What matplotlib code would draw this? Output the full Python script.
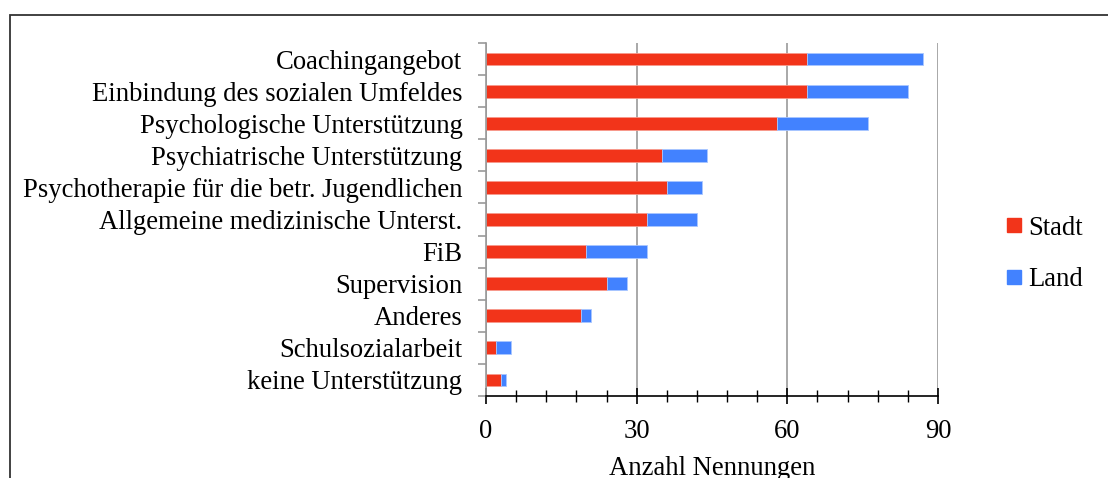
import matplotlib.pyplot as plt
import numpy as np
from matplotlib.lines import Line2D
from matplotlib.patches import Rectangle
from matplotlib.ticker import MultipleLocator

plt.rcParams['font.family'] = ['Liberation Serif', 'DejaVu Serif']

# Data (top to bottom as in the chart)
categories = [
    'Coachingangebot',
    'Einbindung des sozialen Umfeldes',
    'Psychologische Unterstützung',
    'Psychiatrische Unterstützung',
    'Psychotherapie für die betr. Jugendlichen',
    'Allgemeine medizinische Unterst.',
    'FiB',
    'Supervision',
    'Anderes',
    'Schulsozialarbeit',
    'keine Unterstützung',
]
stadt = [64, 64, 58, 35, 36, 32, 20, 24, 19, 2, 3]
land = [23, 20, 18, 9, 7, 10, 12, 4, 2, 3, 1]
series_names = ['Stadt', 'Land']
x_ticks = [0, 30, 60, 90]

red = '#F2341A'
blue = '#4282FF'
fs = 19.2

W, H = 1108, 478
fig = plt.figure(figsize=(W / 100, H / 100), dpi=100)

# outer frame (right and bottom edges run off the image)
fig.patches.append(Rectangle((9.5 / W, -0.1), 1.1, 1.1 - 15 / H,
                             transform=fig.transFigure, fill=False,
                             edgecolor='#333333', linewidth=1.3))

ax = fig.add_axes([486 / W, (H - 396) / H, (938 - 486) / W, (396 - 43) / H])

y = np.arange(len(categories))
ax.barh(y, stadt, height=0.4, color=red, edgecolor='#F79A8C', linewidth=0.6)
ax.barh(y, land, left=stadt, height=0.4, color=blue, edgecolor='#A9C6FF', linewidth=0.6)

ax.set_ylim(len(categories) - 0.5, -0.5)
ax.set_xlim(0, 90)

# y axis: labels at centers, gray ticks at boundaries
ax.set_yticks(y)
ax.set_yticklabels(categories, fontsize=fs)
ax.set_yticks(np.arange(len(categories) + 1) - 0.5, minor=True)
ax.tick_params(axis='y', which='major', length=0, pad=17)
ax.tick_params(axis='y', which='minor', length=6, color='#999999', width=1.2)

# x axis
ax.set_xticks(x_ticks)
ax.set_xticklabels([str(t) for t in x_ticks], fontsize=fs)
ax.xaxis.set_minor_locator(MultipleLocator(6))
ax.tick_params(axis='x', which='major', direction='inout', length=11, width=1.2, pad=11)
ax.tick_params(axis='x', which='minor', direction='inout', length=9, width=1.0)
ax.set_xlabel('Anzahl Nennungen', fontsize=fs, labelpad=9)

ax.grid(axis='x', which='major', color='#999999', linewidth=1.2)
ax.set_axisbelow(True)
for s in ['top', 'right']:
    ax.spines[s].set_visible(False)
ax.spines['left'].set_color('#999999')
ax.spines['left'].set_linewidth(1.2)
ax.spines['bottom'].set_color('black')
ax.spines['bottom'].set_linewidth(1.2)

handles = [Line2D([], [], marker='s', linestyle='none', markersize=10,
                  markerfacecolor=c, markeredgecolor=c) for c in (red, blue)]
fig.legend(handles, series_names, loc='center left',
           bbox_to_anchor=(982 / W, 1 - 254 / H), frameon=False,
           fontsize=fs, handlelength=0.6, handletextpad=0.25, labelspacing=1.0)

fig.savefig('out.png', dpi=100)
